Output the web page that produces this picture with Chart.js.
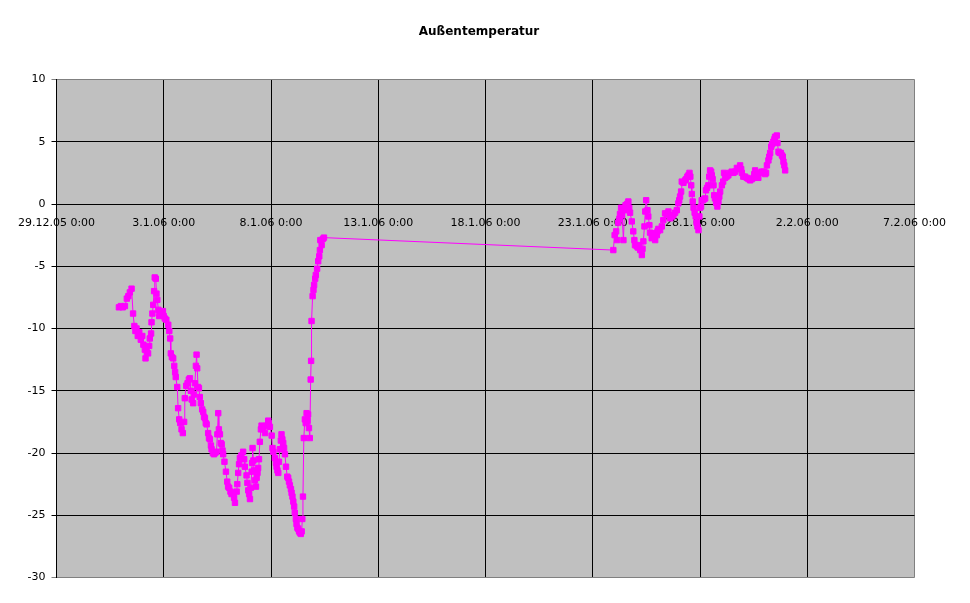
<!DOCTYPE html>
<html><head><meta charset="utf-8">
<script src="https://cdn.jsdelivr.net/npm/chart.js@4"></script>
<style>html,body{margin:0;padding:0;background:#fff}canvas{display:block}</style>
</head><body>
<canvas id="c" width="970" height="603"></canvas>
<script>
// ---- data (days since 29.12.05 0:00, temperature in °C) ----
const chartTitle = 'Außentemperatur';
const xTickLabels = ['29.12.05 0:00','3.1.06 0:00','8.1.06 0:00','13.1.06 0:00','18.1.06 0:00','23.1.06 0:00','28.1.06 0:00','2.2.06 0:00','7.2.06 0:00'];
const xRange = [0, 40];
const xStep = 5;
const yRange = [-30, 10];
const yStep = 5;

const dayOffsets = [
2.91,3.00,3.09,3.19,3.28,3.35,3.42,3.50,3.57,3.63,3.68,3.73,3.79,3.86,3.93,4.00,4.05,4.12,4.15,4.21,
4.27,4.32,4.35,4.41,4.43,4.47,4.51,4.55,4.58,4.63,4.66,4.70,4.75,4.79,4.84,4.90,4.96,5.00,5.05,5.12,
5.21,5.26,5.30,5.33,5.38,5.44,5.49,5.53,5.56,5.63,5.67,5.72,5.77,5.83,5.89,5.95,5.98,6.05,6.11,6.17,
6.22,6.26,6.30,6.37,6.41,6.45,6.50,6.53,6.56,6.60,6.64,6.68,6.73,6.79,6.84,6.88,6.92,6.96,7.00,7.07,
7.11,7.15,7.20,7.23,7.29,7.34,7.40,7.46,7.50,7.54,7.57,7.62,7.66,7.70,7.74,7.77,7.83,7.90,7.96,8.00,
8.05,8.11,8.16,8.24,8.28,8.32,8.40,8.43,8.47,8.51,8.55,8.62,8.70,8.75,8.78,8.86,8.90,8.94,8.98,9.02,
9.06,9.10,9.12,9.14,9.18,9.21,9.25,9.30,9.33,9.37,9.40,9.44,9.48,9.53,9.56,9.60,9.64,9.72,9.79,9.87,
9.90,9.95,10.03,10.07,10.11,10.18,10.23,10.26,10.30,10.34,10.37,10.41,10.46,10.49,10.53,10.57,10.61,10.65,10.70,10.76,
10.80,10.84,10.88,10.93,10.96,11.00,11.04,11.08,11.11,11.16,11.19,11.23,11.27,11.31,11.35,11.39,11.43,11.46,11.49,11.53,
11.58,11.62,11.66,11.70,11.73,11.77,11.81,11.85,11.87,11.89,11.94,11.98,12.01,12.06,12.09,12.15,12.20,12.25,12.28,12.30,
12.36,12.42,12.47,
25.96,26.02,26.09,26.13,26.19,26.24,26.27,26.32,26.37,26.43,26.48,26.53,26.60,26.66,26.70,26.74,26.82,26.89,26.94,26.97,
27.05,27.11,27.16,27.21,27.29,27.32,27.36,27.41,27.45,27.49,27.55,27.59,27.64,27.67,27.75,27.79,27.83,27.87,27.91,27.99,
28.02,28.06,28.14,28.22,28.29,28.37,28.45,28.53,28.57,28.61,28.69,28.76,28.84,28.92,28.99,29.03,29.07,29.12,29.15,29.23,
29.31,29.35,29.41,29.46,29.51,29.55,29.59,29.62,29.66,29.70,29.75,29.80,29.84,29.88,29.93,29.97,30.00,30.05,30.08,30.14,
30.19,30.24,30.28,30.33,30.39,30.43,30.47,30.52,30.55,30.59,30.63,30.66,30.70,30.75,30.81,30.86,30.90,30.94,31.02,31.08,
31.12,31.17,31.24,31.32,31.40,31.48,31.56,31.64,31.72,31.79,31.87,31.92,31.95,32.02,32.10,32.18,32.26,32.34,32.42,32.49,
32.53,32.57,32.65,32.72,32.80,32.88,32.96,33.04,33.08,33.12,33.19,33.23,33.27,33.32,33.36,33.42,33.47,33.50,33.58,33.61,
33.66,33.71,33.77,33.82,33.86,33.89,33.93,33.97
];

const temperatures = [
-8.3,-8.2,-8.3,-8.2,-7.6,-7.4,-7.1,-6.8,-8.8,-9.8,-10.2,-10.0,-10.6,-10.3,-10.9,-10.6,-11.3,-11.7,-12.4,-11.9,
-12.0,-11.4,-10.8,-10.4,-9.5,-8.8,-8.1,-7.0,-5.9,-6.0,-7.2,-7.7,-8.5,-9.0,-8.8,-8.9,-8.6,-9.0,-9.2,-9.3,
-9.7,-10.2,-10.8,-12.0,-12.3,-12.4,-13.0,-13.5,-13.9,-14.7,-16.4,-17.3,-17.6,-18.1,-18.4,-17.5,-15.6,-14.6,-14.4,-14.1,
-14.0,-15.0,-15.7,-16.0,-15.3,-14.4,-13.0,-12.1,-13.2,-14.7,-14.8,-15.5,-16.0,-16.5,-16.7,-17.1,-17.2,-17.6,-17.7,-18.4,
-18.8,-18.9,-19.4,-19.7,-20.0,-20.1,-20.0,-19.9,-18.5,-16.8,-18.1,-18.5,-19.2,-19.3,-19.8,-20.1,-20.7,-21.5,-22.3,-22.7,
-22.8,-23.1,-23.3,-23.2,-23.6,-24.0,-23.1,-22.5,-21.6,-20.9,-20.4,-20.2,-19.9,-20.5,-21.1,-21.8,-22.4,-23.0,-23.3,-23.7,
-22.8,-21.5,-20.8,-19.6,-20.6,-21.4,-22.2,-22.7,-22.0,-21.6,-21.2,-20.5,-19.1,-18.1,-17.8,-18.0,-18.1,-18.4,-17.8,-17.4,
-17.6,-17.9,-18.6,-19.6,-19.9,-20.4,-20.8,-21.1,-21.4,-21.6,-20.7,-19.7,-19.0,-18.5,-18.9,-19.2,-19.6,-20.1,-21.1,-21.9,
-22.0,-22.3,-22.6,-22.9,-23.2,-23.5,-23.9,-24.3,-24.8,-25.3,-25.7,-26.0,-26.1,-26.3,-26.4,-26.5,-26.3,-25.3,-23.5,-18.8,
-17.3,-17.6,-16.8,-17.4,-16.9,-18.0,-18.8,-14.1,-12.6,-9.4,-7.4,-6.9,-6.5,-6.0,-5.7,-5.2,-4.6,-4.2,-3.7,-2.9,
-3.3,-2.8,-2.7,
-3.7,-2.5,-2.2,-2.9,-1.5,-1.2,-0.8,-0.3,-0.9,-2.9,-0.5,-0.1,0.0,0.2,-0.3,-0.7,-1.4,-2.2,-2.9,-3.3,
-3.4,-3.5,-3.3,-3.7,-4.1,-3.6,-3.0,-1.8,-0.6,0.3,-0.5,-1.0,-1.7,-2.3,-2.75,-2.6,-2.35,-2.7,-2.9,-2.5,
-2.2,-2.0,-2.1,-1.8,-1.3,-0.75,-0.8,-0.6,-0.9,-1.15,-1.0,-0.9,-0.7,-0.5,0.05,0.3,0.6,1.0,1.8,1.7,
1.9,2.0,2.2,2.3,2.5,2.2,1.5,0.8,0.2,-0.3,-0.7,-1.0,-1.5,-1.8,-2.1,-1.0,-0.3,-0.2,0.3,0.3,
0.4,0.45,1.1,1.3,1.5,2.2,2.7,2.6,2.3,2.0,1.5,0.7,0.45,0.1,-0.2,0.2,0.6,1.0,1.5,1.8,
2.5,2.1,2.2,2.3,2.5,2.6,2.5,2.6,2.9,2.8,3.1,2.8,2.5,2.2,2.2,2.1,2.0,1.9,2.0,2.1,
2.4,2.7,2.5,2.1,2.5,2.6,2.6,2.4,2.5,3.1,3.5,3.8,4.1,4.6,4.8,5.0,5.2,5.4,5.5,4.9,
4.2,4.1,4.1,3.9,3.8,3.4,3.1,2.7
];

// ---- chart ----
const points = dayOffsets.map((d, i) => ({x: d, y: temperatures[i]}));

Chart.defaults.font.family = "'DejaVu Sans', sans-serif";
Chart.defaults.font.size = 11;
Chart.defaults.color = '#000';

const plotBackground = {
  id: 'plotBackground',
  beforeDraw(chart) {
    const {ctx, chartArea: a} = chart;
    ctx.save();
    ctx.fillStyle = '#C0C0C0';
    ctx.fillRect(a.left, a.top, a.right - a.left, a.bottom - a.top);
    ctx.restore();
  }
};

new Chart(document.getElementById('c'), {
  type: 'scatter',
  data: {
    datasets: [{
      data: points,
      showLine: true,
      borderColor: '#FF00FF',
      borderWidth: 1,
      backgroundColor: '#FF00FF',
      pointStyle: 'rect',
      pointRadius: 3.8,
      pointBorderWidth: 1,
      pointBorderColor: '#FF00FF',
      pointBackgroundColor: '#FF00FF',
      tension: 0
    }]
  },
  options: {
    responsive: false,
    devicePixelRatio: 1,
    animation: false,
    events: [],
    layout: {padding: {left: 0, right: 12, top: 0, bottom: 25.5}},
    plugins: {
      legend: {display: false},
      tooltip: {enabled: false},
      title: {
        display: true,
        text: chartTitle,
        color: '#000',
        font: {family: "'DejaVu Sans', sans-serif", size: 12, weight: 'bold'},
        padding: {top: 24.3, bottom: 40.8}
      }
    },
    scales: {
      x: {
        type: 'linear',
        min: xRange[0],
        max: xRange[1],
        position: {y: 0},
        ticks: {
          stepSize: xStep,
          autoSkip: false,
          maxRotation: 0,
          padding: 5,
          color: '#000',
          callback: (v) => xTickLabels[Math.round((v - xRange[0]) / xStep)]
        },
        grid: {
          color: (c) => (c.tick && c.tick.value === xRange[1]) ? '#808080' : '#000',
          lineWidth: 1,
          tickLength: 8
        },
        border: {color: '#000', width: 1}
      },
      y: {
        type: 'linear',
        position: 'left',
        min: yRange[0],
        max: yRange[1],
        ticks: {stepSize: yStep, padding: 6, color: '#000'},
        grid: {
          color: (c) => (c.tick && (c.tick.value === yRange[1] || c.tick.value === yRange[0])) ? '#808080' : '#000',
          lineWidth: 1,
          tickLength: 5
        },
        border: {color: '#000', width: 1},
        afterFit: (s) => { s.width = 56.5; }
      },
      yRightSpace: {
        type: 'linear',
        position: 'right',
        min: yRange[0],
        max: yRange[1],
        ticks: {display: false},
        grid: {display: false, drawTicks: false},
        border: {display: false},
        afterFit: (s) => { s.width = 43.5; }
      }
    }
  },
  plugins: [plotBackground]
});
</script>
</body></html>
